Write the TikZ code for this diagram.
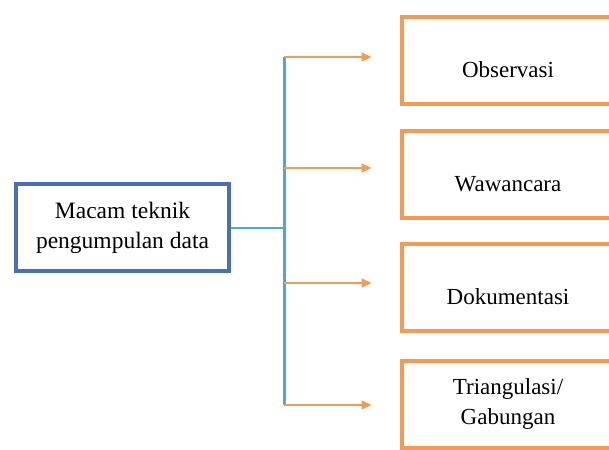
\documentclass[tikz,border=0pt]{standalone}
\usepackage{fontspec}
\setmainfont{Liberation Serif}
\usetikzlibrary{arrows.meta}
\definecolor{boxblue}{HTML}{4A6FB8}
\definecolor{spineteal}{HTML}{4BACC6}
\definecolor{boxorange}{HTML}{F39A55}

\begin{document}
\begin{tikzpicture}[x=1pt,y=-1pt,line join=miter,>={Triangle[length=10pt,width=9pt]},
  mainbox/.style={draw=boxblue,line width=4pt,minimum width=213pt,minimum height=87pt,align=center,inner sep=0pt,
    font=\fontsize{23.5}{30}\selectfont},
  itembox/.style={draw=boxorange,line width=4pt,minimum width=213pt,minimum height=87pt,align=center,inner sep=0pt,
    font=\fontsize{23}{30}\selectfont},
  lowtext/.style={text height=33pt,text depth=0pt},
  spine/.style={draw=spineteal,line width=3pt},
  branch/.style={draw=boxorange,line width=1.8pt,->,shorten >=28pt}]
  \useasboundingbox (0,0) rectangle (609,449);

  \node[mainbox] (macam) at (122.5,227.5) {Macam teknik\\pengumpulan data};

  \node[itembox,lowtext] (obs) at (508,61) {Observasi};
  \node[itembox,lowtext] (waw) at (508,174.5) {Wawancara};
  \node[itembox,lowtext] (dok) at (508,287.5) {Dokumentasi};
  \node[itembox] (tri) at (508,404) {Triangulasi/\\Gabungan};

  \coordinate (s1) at (284,57);
  \coordinate (s2) at (284,168);
  \coordinate (s3) at (284,283);
  \coordinate (s4) at (284,405);

  \draw[spine] (s1) -- (s4);
  \draw[spineteal,line width=2pt] (macam.east) -- (macam.east -| s1);

  \draw[branch] (s1) -- (s1 -| obs.west);
  \draw[branch] (s2) -- (s2 -| waw.west);
  \draw[branch] (s3) -- (s3 -| dok.west);
  \draw[branch] (s4) -- (s4 -| tri.west);
\end{tikzpicture}
\end{document}
